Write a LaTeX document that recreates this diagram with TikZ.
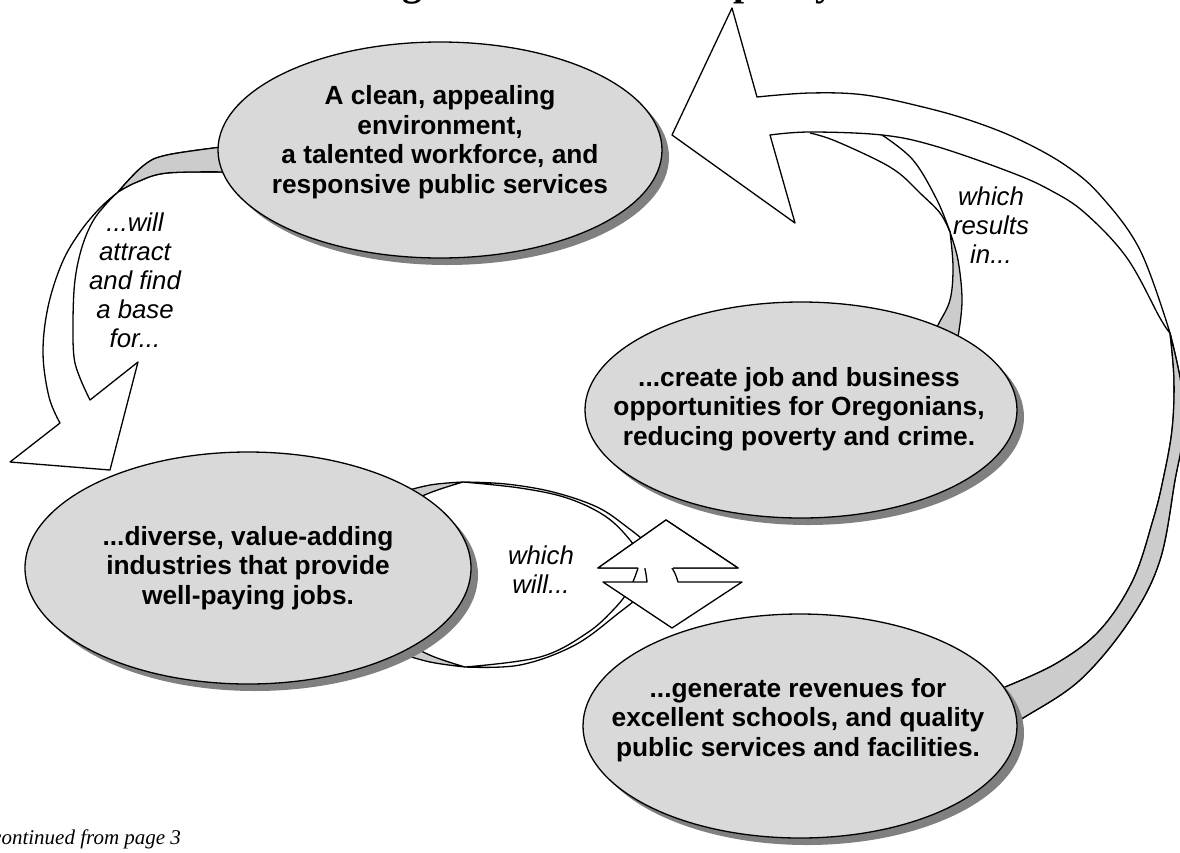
\documentclass[tikz,border=0pt]{standalone}
\usepackage{fontspec}
\setmainfont{Liberation Serif}
\newfontfamily\arialf{Liberation Sans}
\usetikzlibrary{shapes.geometric,shadows}
\tikzset{
  ol/.style={draw=black, line width=1.3pt, line join=round},
  band/.style={fill=white, draw=black, line width=1.3pt, line join=round},
  back/.style={fill=black!20, draw=black, line width=1.3pt, line join=round},
  ell/.style={ellipse, draw=black, line width=1.3pt, fill=black!15, inner sep=0pt,
    drop shadow={shadow xshift=7pt, shadow yshift=-7pt, fill=black!50, opacity=1}},
  etext/.style={font=\arialf\bfseries\fontsize{26.3pt}{29.5pt}\selectfont, align=center, inner sep=0pt},
  itext/.style={font=\arialf\itshape\fontsize{25.8pt}{29pt}\selectfont, align=center, inner sep=0pt},
  sm/.style={smooth, tension=0.6}
}
\begin{document}
\begin{tikzpicture}[x=1pt,y=-1pt]
\useasboundingbox (0,0) rectangle (1180,852);

% title (cut off at the top of the page)
\node[anchor=base, inner sep=0pt, font=\bfseries\fontsize{39.7pt}{44pt}\selectfont] (title) at (586,-4.5) {Oregon’s Circle of Prosperity};

% ---------- Arrow A (left) ----------
\path[band] plot[sm] coordinates {(230,146) (167,155) (143,166) (118,192)}
  -- plot[sm] coordinates {(118,192) (100,208) (80,232) (62,263) (48,307) (43,353) (49,397) (60,423)}
  -- (10,462) coordinate (aw1) -- (110,470) coordinate (atip) -- (138,362) coordinate (aw2) -- (90,400)
  -- plot[sm] coordinates {(90,400) (80,378) (74,357) (73,320) (75,280) (82,247) (93,221) (107,203) (118,192)}
  -- plot[sm] coordinates {(118,192) (137,182) (167,173) (230,172)} -- cycle;
\path[back] plot[sm] coordinates {(230,146) (167,155) (143,166) (118,192)}
  -- plot[sm] coordinates {(118,192) (137,182) (167,173) (230,172)} -- cycle;

% ---------- Arrow B (middle), bottom arc with head pointing up ----------
\path[band] plot[sm] coordinates {(465,667) (540,657) (587,633) (615,608) (630,588) (638,568)}
  -- (598,568) -- (666,520) coordinate (btip1) -- (738,568) -- (673,568)
  -- plot[sm] coordinates {(673,568) (650,588) (620,612) (575,645) (520,665) (465,667)} -- cycle;
\path[back] plot[sm] coordinates {(395,652) (430,662) (465,667)}
  -- plot[sm] coordinates {(465,667) (432,656) (395,638)} -- cycle;
% top arc with head pointing down
\path[band] plot[sm] coordinates {(463,482) (506,484) (553,492) (597,507) (627,527) (655,550) (672,568) (678,582)}
  -- (742,582) -- (672,628) coordinate (btip2) -- (603,582) -- (647,582)
  -- plot[sm] coordinates {(647,582) (643,562) (630,540) (605,516) (567,498) (520,488) (463,482)} -- cycle;
\path[back] plot[sm] coordinates {(395,494) (430,485) (463,482)}
  -- plot[sm] coordinates {(463,482) (432,492) (395,508)} -- cycle;
% head of the bottom arc lies over the top arc
\path[band] (638,568) -- (598,568) -- (666,520) -- (738,568) -- (673,568);

% ---------- Arrow C (right, large) ----------
\path[band] (732,8) coordinate (ctip) -- (672,135) -- (795,223) -- (770,135)
  -- plot[sm] coordinates {(770,135) (810,132) (882,135) (935,146) (1010,172) (1050,190) (1085,213) (1127,258) (1160,318) (1170,333)}
  -- plot[sm] coordinates {(1170,333) (1182,390) (1182,440) (1175,480) (1160,560) (1130,620) (1080,680) (1023,718) (1000,731)}
  -- plot[sm] coordinates {(985,695) (1003,688) (1057,663) (1100,630) (1133,580) (1153,520) (1163,480) (1172,430) (1174,380) (1170,333)}
  -- plot[sm] coordinates {(1170,333) (1140,250) (1100,195) (1065,165) (1020,140) (975,122) (927,108) (865,95) (810,93) (757,97)}
  -- cycle;
\path[back] plot[sm] coordinates {(1170,333) (1182,390) (1182,440) (1175,480) (1160,560) (1130,620) (1080,680) (1023,718) (1000,731)}
  -- plot[sm] coordinates {(985,695) (1003,688) (1057,663) (1100,630) (1133,580) (1153,520) (1163,480) (1172,430) (1174,380) (1170,333)} -- cycle;

% small ribbon from the right-middle ellipse
\path[back] plot[sm] coordinates {(950,232) (958,260) (962,300) (958,337) (954,352)}
  -- plot[sm] coordinates {(930,342) (938,325) (950,300) (953,267) (950,232)} -- cycle;
\draw[ol] plot[sm] coordinates {(810,133) (833,140) (877,160) (900,174) (920,193) (940,213) (950,232)};
\draw[ol] plot[sm] coordinates {(882,135) (913,160) (937,200) (950,232)};

% ---------- ellipses ----------
\node[ell, minimum width=444pt, minimum height=216pt] (e1) at (440,150) {};
\node[ell, minimum width=446pt, minimum height=232pt] (e2) at (248,568) {};
\node[ell, minimum width=432pt, minimum height=216pt] (e3) at (801,410) {};
\node[ell, minimum width=434pt, minimum height=224pt] (e4) at (800,726) {};

\node[etext] (t1) at (440,142) {A clean, appealing\\environment,\\a talented workforce, and\\responsive public services};
\node[etext] (t2) at (248,568) {...diverse, value-adding\\industries that provide\\well-paying jobs.};
\node[etext] (t3) at (799,409) {...create job and business\\opportunities for Oregonians,\\reducing poverty and crime.};
\node[etext] (t4) at (798,720) {...generate revenues for\\excellent schools, and quality\\public services and facilities.};

% ---------- arrow labels ----------
\node[itext] (l1) at (135,280) {...will\\attract\\and find\\a base\\for...};
\node[itext] (l2) at (541,570) {which\\will...};
\node[itext] (l3) at (991,225) {which\\results\\in...};

% footer
\node[anchor=base west, inner sep=0pt, font=\itshape\fontsize{21pt}{24pt}\selectfont] (foot) at (-8,844) {continued from page 3};
\end{tikzpicture}
\end{document}
